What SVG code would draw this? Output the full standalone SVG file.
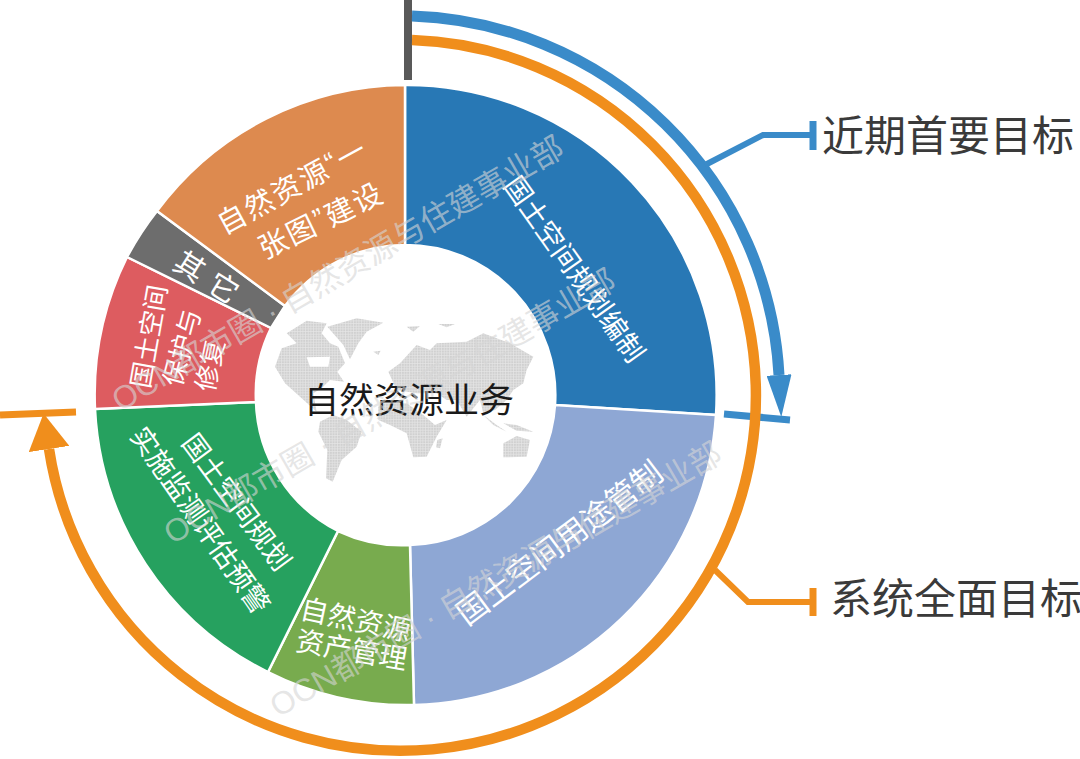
<svg xmlns="http://www.w3.org/2000/svg" width="1080" height="759" viewBox="0 0 1080 759">
<style>
text{font-family:"Noto Sans CJK SC","Noto Sans",sans-serif}
.sec{stroke:#fff;stroke-width:2.5}
.lab{fill:#fff;font-size:28px;text-anchor:middle;dominant-baseline:central}
.q{font-family:"Liberation Sans",sans-serif}
.goal{fill:#3a3a3a;font-size:42px;dominant-baseline:central}
.b{fill:none;stroke:#3a8bc9;stroke-width:11}
.o{fill:none;stroke:#f08e1c;stroke-width:10.500}
.wm{fill:#d6d6d6;fill-opacity:.62;font-size:32px;font-family:"Liberation Sans","Noto Sans CJK SC",sans-serif}
</style>
<defs>
<marker id="hb" markerUnits="userSpaceOnUse" viewBox="0 0 42 25" refX="0" refY="12.5" markerWidth="42" markerHeight="25" orient="auto"><polygon points="0,0 42,12.5 0,25" fill="#3a8bc9"/></marker>
<marker id="ho" markerUnits="userSpaceOnUse" viewBox="0 0 36 41" refX="0" refY="20.5" markerWidth="36" markerHeight="41" orient="auto"><polygon points="0,0 36,20.5 0,41" fill="#f08e1c"/></marker>
<pattern id="dots" width="8" height="8" patternUnits="userSpaceOnUse"><rect width="8" height="8" fill="#e6e6e6"/><rect width="6" height="6" fill="#d0d0d0"/></pattern>
</defs>
<g id="sector-plan"><path class="sec" fill="#2878b5" d="M405,85A310,310 0 0 1 716,415L555,405A150,150 0 0 0 405,245Z"/><text class="lab" style="font-size:27.500px" transform="translate(576,268) rotate(54.6)">国土空间规划编制</text></g>
<g id="sector-use"><path class="sec" fill="#8ea7d4" d="M716,415A310,310 0 0 1 414,705L410,545A150,150 0 0 0 555,405Z"/><text class="lab" style="font-size:31px" transform="translate(558,541) rotate(-37)">国土空间用途管制</text></g>
<g id="sector-asset"><path class="sec" fill="#78ab4e" d="M414,705A310,310 0 0 1 268,672L338,531A150,150 0 0 0 410,545Z"/><text class="lab" transform="translate(356,618) rotate(12)">自然资源</text><text class="lab" transform="translate(352,648) rotate(10)">资产管理</text></g>
<g id="sector-monitor"><path class="sec" fill="#26a15f" d="M268,672A310,310 0 0 1 95,409L256,402A150,150 0 0 0 338,531Z"/><text class="lab" style="font-size:27px" transform="translate(238,501) rotate(53.5)">国土空间规划</text><text class="lab" style="font-size:27.500px" transform="translate(202,519) rotate(55)">实施监测评估预警</text></g>
<g id="sector-protect"><path class="sec" fill="#dd5c60" d="M95,409A310,310 0 0 1 127,257L271,328A150,150 0 0 0 256,402Z"/><text class="lab" style="font-size:26px" transform="translate(147,336) rotate(-80)">国土空间</text><text class="lab" style="font-size:26px" transform="translate(180,347) rotate(-75)">保护与</text><text class="lab" style="font-size:26px" transform="translate(208,365) rotate(-78)">修复</text></g>
<g id="sector-other"><path class="sec" fill="#6d6d6d" d="M127,257A310,310 0 0 1 157,211L285,306L271,328Z"/><text class="lab" style="font-size:30px;letter-spacing:10px" transform="translate(212,278) rotate(32)">其它</text></g>
<g id="sector-map"><path class="sec" fill="#dd8a4f" d="M157,211A310,310 0 0 1 405,85V245A150,150 0 0 0 285,306Z"/><text class="lab" style="font-size:29px;letter-spacing:2px" transform="translate(291,184) rotate(-28.5)">自然资源<tspan class="q">“</tspan>一</text><text class="lab" style="font-size:29px;letter-spacing:2px" transform="translate(320,218) rotate(-26)">张图<tspan class="q">”</tspan>建设</text></g>
<g id="center">
<circle cx="405" cy="395" r="150" fill="#fff"/>
<g transform="translate(250,300) scale(.3333)" fill="url(#dots)">
<path fill-rule="evenodd" d="M75,200L95,145L140,130L110,100L170,62L230,70L215,100L240,130L265,140L285,190L262,215L282,245L240,240L215,265L190,280L200,335L150,290L105,250ZM170,172L240,170L235,200L180,200Z"/>
<path d="M232,80L320,55L400,68L350,95L325,130L300,178L280,135Z"/>
<path d="M210,365L250,345L290,360L335,395L320,440L275,480L248,545L228,535L232,450L205,395Z"/>
<path d="M385,320L400,308L470,310L520,345L555,375L590,360L560,410L530,470L490,472L470,400L420,375L385,360Z"/>
<path d="M415,215L450,190L500,135L540,150L560,130L650,125L700,100L780,130L850,170L830,210L820,250L790,270L770,300L735,330L700,340L690,300L650,350L620,300L590,300L560,280L500,280L440,270Z"/>
<path d="M760,430L800,408L840,420L830,470L760,472Z"/>
<path d="M562,420L578,415L570,445L558,442Z"/>
<path d="M700,345L740,375L770,395L730,375ZM760,370L800,375L850,395L800,392Z"/>
<path d="M470,80L510,78L490,95ZM565,72L615,72L590,82ZM370,155L392,152L385,165Z"/>
</g>
<text x="409" y="397" text-anchor="middle" dominant-baseline="central" fill="#1a1a1a" font-size="35">自然资源业务</text>
</g>
<g id="connectors">
<path d="M408 0V80" fill="none" stroke="#595959" stroke-width="8"/>
<path d="M724,414L790,420" fill="none" stroke="#3a8bc9" stroke-width="7"/>
<path class="b" d="M412,16A380,380 0 0 1 779,375" marker-end="url(#hb)"/>
<path class="o" d="M412,40A355.500,355.500 0 1 1 49,449" marker-end="url(#ho)"/>
<path d="M0,415L76,412" fill="none" stroke="#f08e1c" stroke-width="7"/>
<path d="M705,165L763,135H813" fill="none" stroke="#3a8bc9" stroke-width="6"/>
<path d="M813,121V150" fill="none" stroke="#3a8bc9" stroke-width="7"/>
<path d="M715,570L748,602H813" fill="none" stroke="#f08e1c" stroke-width="6"/>
<path d="M813,588V616" fill="none" stroke="#f08e1c" stroke-width="7"/>
</g>
<g id="goals">
<text class="goal" x="822" y="132">近期首要目标</text>
<text class="goal" x="830" y="595">系统全面目标</text>
</g>
<g id="watermark">
<text class="wm" transform="translate(120,412) rotate(-30)">OCN都市圈 · 自然资源与住建事业部</text>
<text class="wm" transform="translate(172,545) rotate(-30)">OCN都市圈 · 自然资源与住建事业部</text>
<text class="wm" transform="translate(278,718) rotate(-30)">OCN都市圈 · 自然资源与住建事业部</text>
</g>
</svg>
